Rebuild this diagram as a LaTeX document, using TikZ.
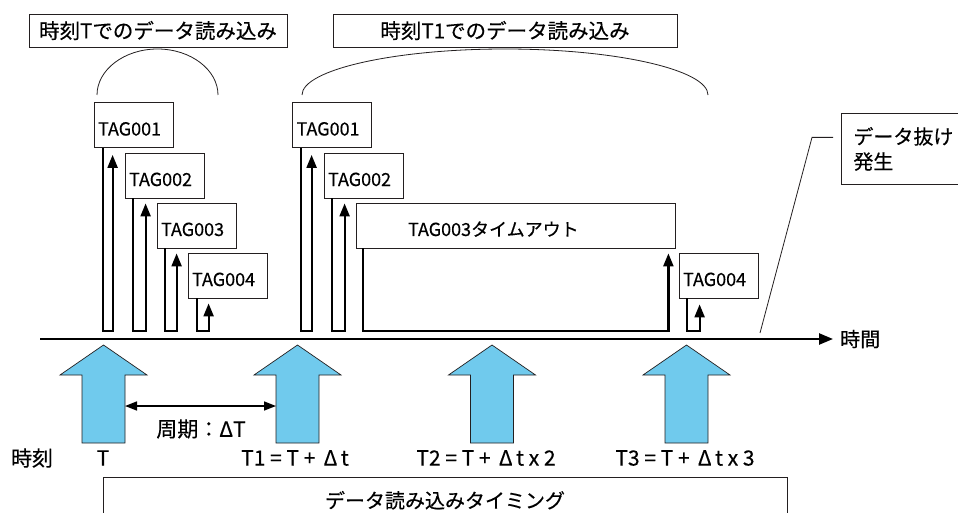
\documentclass[tikz,border=0pt]{standalone}
\usepackage{fontspec}
\setmainfont{Noto Sans CJK JP}[FakeBold=0.35]
\usetikzlibrary{arrows.meta,calc}
\definecolor{arrowblue}{RGB}{112,202,237}
\definecolor{edgegray}{RGB}{35,31,32}
\newcommand{\jpL}{\fontsize{20}{25}\selectfont}
\newcommand{\jpH}{\fontsize{20.5}{25}\selectfont}
\newcommand{\jpT}{\fontsize{21}{25}\selectfont}
\newcommand{\jpS}{\fontsize{18}{20}\selectfont}
\newcommand{\tagret}[4]{%
  \path ([xshift=#2]#1.south west) coordinate (#1-l)
        ([xshift=#3,yshift=-#4]#1.south west) coordinate (#1-r);
  \draw[ret] (#1-l) -- (#1-l |- base) -- (#1-r |- base) -- (#1-r);}
\newcommand{\bluearr}[2]{%
  \filldraw[bluearrow] (#1,345) -- (#1+43.5,375) -- (#1+21.5,375) -- (#1+21.5,443)
    -- (#1-21.5,443) -- (#1-21.5,375) -- (#1-43.5,375) -- cycle;
  \coordinate (#2l) at (#1-21.5,406);
  \coordinate (#2r) at (#1+21.5,406);}
\tikzset{
  box/.style={draw=edgegray, line width=0.8pt},
  titlebox/.style={box, minimum height=33pt, font=\jpH},
  tagbox/.style={box, minimum width=79pt, minimum height=45pt, text width=71pt,
    inner xsep=4pt, inner ysep=0pt, align=left, text height=21pt, text depth=0pt, font=\jpS},
  ret/.style={line width=2.2pt, line join=miter, -{Triangle[length=13pt,width=10pt]}},
  thinline/.style={line width=0.8pt, edgegray},
  axisline/.style={line width=2.5pt, -{Triangle[length=14pt,width=11pt]}},
  dbl/.style={line width=1.6pt, {Triangle[length=12pt,width=9pt]}-{Triangle[length=12pt,width=9pt]}},
  bluearrow/.style={fill=arrowblue, draw=edgegray, line width=0.7pt},
  lbl/.style={font=\jpT}
}
\begin{document}
\begin{tikzpicture}[x=1pt,y=-1pt, every node/.style={inner sep=0pt}]
\useasboundingbox (0,0) rectangle (958,513);
\clip (0,0) rectangle (958,513);

% titles
\node[titlebox, minimum width=258pt] (h1) at (158,30.5) {時刻Tでのデータ読み込み};
\node[titlebox, minimum width=344pt] (h2) at (505,30.5) {時刻T1でのデータ読み込み};

% braces
\draw[thinline] (97,95) .. controls (97,70) and (124,49) .. (157.5,49)
  .. controls (191,49) and (218,70) .. (218,95);
\draw[thinline] (302,95) .. controls (302,70) and (393,49) .. (505,49)
  .. controls (617,49) and (708,70) .. (708,95);

% tag boxes
\node[tagbox] (la) at (133.5,125) {TAG001};
\node[tagbox] (lb) at (164.5,175.5) {TAG002};
\node[tagbox] (lc) at (196.5,225.5) {TAG003};
\node[tagbox] (ld) at (227.5,275.5) {TAG004};
\node[tagbox] (ra) at (332,125) {TAG001};
\node[tagbox] (rb) at (363.5,175.5) {TAG002};
\node[tagbox, minimum width=319pt, text width=311pt] (rc) at (515.5,225.5) {\hspace*{48pt}TAG003タイムアウト};
\node[tagbox] (rd) at (718.5,275.5) {TAG004};

% return loops
\coordinate (base) at (0,331);
\tagret{la}{9pt}{19pt}{7pt}
\tagret{lb}{8pt}{21pt}{5pt}
\tagret{lc}{8pt}{20pt}{5pt}
\tagret{ld}{9pt}{21pt}{5pt}
\tagret{ra}{8.5pt}{19.5pt}{7pt}
\tagret{rb}{8pt}{21pt}{5pt}
\path ([xshift=7pt]rc.south west) coordinate (rc-l)
      ([xshift=-7pt,yshift=-5pt]rc.south east) coordinate (rc-r);
\draw[ret] (rc-l) -- (rc-l |- base) -- (rc-r |- base) -- (rc-r);
\tagret{rd}{8pt}{21pt}{6pt}

% time axis
\coordinate (axs) at (40,339);
\coordinate (axe) at (833,339);
\draw[axisline] (axs) -- (axe);
\node[anchor=west, font=\jpL] (jikan) at (840,339) {時間};

% data loss
\node[box, anchor=north west, minimum width=130pt, minimum height=71pt, text width=106pt,
  inner xsep=12pt, align=left, font=\jpL] (loss) at (841,113) {データ抜け\\発生};
\coordinate (lossend) at (760,333);
\draw[thinline] ([xshift=-8pt,yshift=11.5pt]loss.west) -- ++(-21,0) -- (lossend);

% blue arrows
\bluearr{103.5}{a1}
\bluearr{297.5}{a2}
\bluearr{492}{a3}
\bluearr{686.5}{a4}
\draw[dbl] (a1r) -- (a2l);
\node[lbl] (period) at (201,429) {周期：ΔT};

% time labels
\node[lbl] (jikoku) at (32,458) {時刻};
\node[lbl] (t0) at (103,458) {T};
\node[lbl] (t1) at (295,458) {T1 = T + \,Δ\,t};
\node[lbl] (t2) at (486,458) {T2 = T + \,Δ\,t x 2};
\node[lbl] (t3) at (685,458) {T3 = T + \,Δ\,t x 3};

% timing box
\node[box, anchor=north, minimum width=684pt, text height=22.6pt, text depth=40pt,
  inner ysep=8pt, font=\jpL] (timing) at (445,477) {データ読み込みタイミング};
\end{tikzpicture}
\end{document}
